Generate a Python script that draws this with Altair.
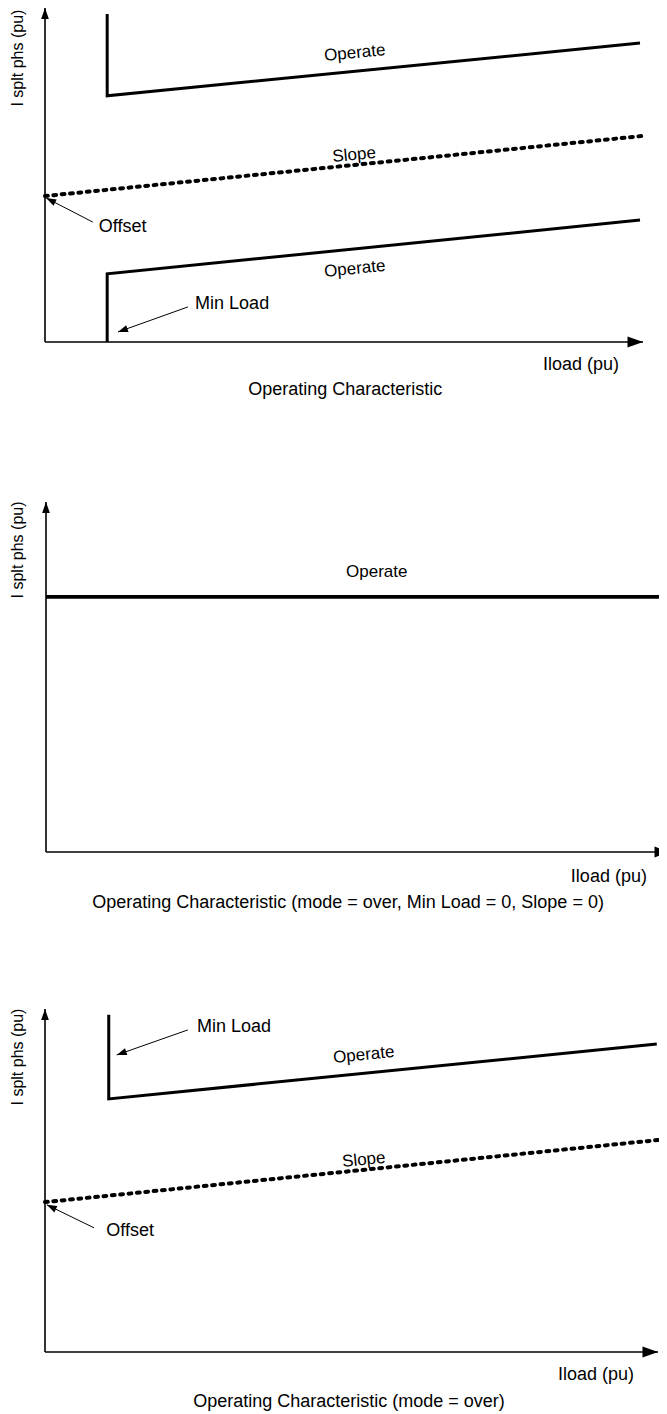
import math
import altair as alt
import pandas as pd

# ---------------------------------------------------------------------------
# Data, in diagram units: in every panel the y axis is x = 0, the x axis is
# y = 0, and both arrows end at 10.
# ---------------------------------------------------------------------------
# Panel 1 - Operating Characteristic
p1_op_upper_x = [1.04, 1.04, 9.95]
p1_op_upper_y = [9.82, 7.37, 8.95]
p1_op_lower_x = [1.04, 1.04, 9.95]
p1_op_lower_y = [0.00, 2.04, 3.65]
p1_slope_x = [0.00, 10.00]
p1_slope_y = [4.37, 6.17]
p1_arrow_tail_x = [0.80, 2.39]
p1_arrow_tail_y = [3.59, 1.05]
p1_arrow_tip_x = [0.02, 1.22]
p1_arrow_tip_y = [4.31, 0.30]
p1_note_text = ["Offset", "Min Load"]
p1_note_x = [0.90, 2.51]
p1_note_y = [3.44, 1.14]
p1_curve_text = ["Operate", "Slope", "Operate"]
p1_curve_x = [5.18, 5.17, 5.18]
p1_curve_y = [8.65, 5.60, 2.19]
p1_caption = "Operating Characteristic"

# Panel 2 - mode = over, Min Load = 0, Slope = 0
p2_op_x = [0.00, 10.00]
p2_op_y = [7.29, 7.29]
p2_curve_text = ["Operate"]
p2_curve_x = [5.30]
p2_curve_y = [8.00]
p2_caption = "Operating Characteristic (mode = over, Min Load = 0, Slope = 0)"

# Panel 3 - mode = over
p3_op_x = [1.04, 1.04, 9.98]
p3_op_y = [9.83, 7.38, 8.98]
p3_slope_x = [0.00, 10.00]
p3_slope_y = [4.37, 6.18]
p3_arrow_tail_x = [2.33, 0.80]
p3_arrow_tail_y = [9.39, 3.62]
p3_arrow_tip_x = [1.17, 0.03]
p3_arrow_tip_y = [8.66, 4.29]
p3_note_text = ["Min Load", "Offset"]
p3_note_x = [2.48, 1.00]
p3_note_y = [9.48, 3.53]
p3_curve_text = ["Operate", "Slope"]
p3_curve_x = [5.20, 5.20]
p3_curve_y = [8.66, 5.60]
p3_caption = "Operating Characteristic (mode = over)"

x_title = "Iload (pu)"
y_title = "I splt phs (pu)"

# ---------------------------------------------------------------------------
W = 651
FONT = "Liberation Sans, Arial, sans-serif"
ARROW = "M 0 0 L -2 -0.7 L -2 0.7 Z"   # pointing right, tip at origin

panels = [
    dict(H=412, xdom=[-0.6187, 10.2676], ydom=[-2.3353, 10.0],
         operate=[(p1_op_upper_x, p1_op_upper_y), (p1_op_lower_x, p1_op_lower_y)],
         op_width=3.0,
         slope=(p1_slope_x, p1_slope_y),
         arrows=(p1_arrow_tail_x, p1_arrow_tail_y, p1_arrow_tip_x, p1_arrow_tip_y),
         notes=(p1_note_text, p1_note_x, p1_note_y),
         curve=(p1_curve_text, p1_curve_x, p1_curve_y),
         curve_line=[0, "slope", 1],
         caption=(p1_caption, 5.02, -1.44),
         xt=(9.60, -0.69), yt=(-0.45, 8.50)),
    dict(H=500, xdom=[-0.6090, 9.8237], ydom=[-1.9429, 12.3429],
         operate=[(p2_op_x, p2_op_y)],
         op_width=3.6,
         slope=None, arrows=None, notes=None,
         curve=(p2_curve_text, p2_curve_x, p2_curve_y),
         curve_line=[0],
         caption=(p2_caption, 4.84, -1.46),
         xt=(9.63, -0.71), yt=(-0.45, 8.63)),
    dict(H=486, xdom=[-0.6036, 10.0163], ydom=[-1.5743, 12.5948],
         operate=[(p3_op_x, p3_op_y)],
         op_width=3.0,
         slope=(p3_slope_x, p3_slope_y),
         arrows=(p3_arrow_tail_x, p3_arrow_tail_y, p3_arrow_tip_x, p3_arrow_tip_y),
         notes=(p3_note_text, p3_note_x, p3_note_y),
         curve=(p3_curve_text, p3_curve_x, p3_curve_y),
         curve_line=[0, "slope"],
         caption=(p3_caption, 4.96, -1.46),
         xt=(9.61, -0.67), yt=(-0.44, 8.60)),
]


def make_panel(d):
    H = d["H"]
    xdom, ydom = d["xdom"], d["ydom"]
    kx = W / (xdom[1] - xdom[0])
    ky = H / (ydom[1] - ydom[0])
    xs = alt.Scale(domain=xdom, nice=False, zero=False)
    ys = alt.Scale(domain=ydom, nice=False, zero=False)

    def X(f):
        return alt.X(f"{f}:Q", scale=xs, axis=None)

    def Y(f):
        return alt.Y(f"{f}:Q", scale=ys, axis=None)

    def screen_angle(dx, dy):
        return math.degrees(math.atan2(-dy * ky, dx * kx)) % 360

    layers = []

    # axes with arrow heads
    axes = pd.DataFrame({"x": [0, 0], "y": [0, 0], "x2": [0, 10], "y2": [10, 0]})
    layers.append(alt.Chart(axes).mark_rule(color="black", strokeWidth=1.6, clip=True)
                  .encode(x=X("x"), y=Y("y"), x2="x2:Q", y2="y2:Q"))
    layers.append(alt.Chart(pd.DataFrame({"x": [0], "y": [10]}))
                  .mark_point(shape=ARROW, filled=True, color="black", opacity=1,
                              size=121, angle=270, clip=True)
                  .encode(x=X("x"), y=Y("y")))
    layers.append(alt.Chart(pd.DataFrame({"x": [10], "y": [0]}))
                  .mark_point(shape=ARROW, filled=True, color="black", opacity=1,
                              size=240, angle=0, clip=True)
                  .encode(x=X("x"), y=Y("y")))

    # operate characteristic lines
    rows = []
    for seg, (lx, ly) in enumerate(d["operate"]):
        for i, (a, b) in enumerate(zip(lx, ly)):
            rows.append({"seg": seg, "i": i, "x": a, "y": b})
    layers.append(alt.Chart(pd.DataFrame(rows))
                  .mark_line(color="black", strokeWidth=d["op_width"], strokeJoin="miter",
                             strokeCap="butt", clip=True)
                  .encode(x=X("x"), y=Y("y"), detail="seg:N", order="i:Q"))

    # slope (dashed)
    if d["slope"] is not None:
        sx, sy = d["slope"]
        layers.append(alt.Chart(pd.DataFrame({"x": sx, "y": sy, "i": list(range(len(sx)))}))
                      .mark_line(color="black", strokeWidth=4, strokeDash=[2.8, 5.6],
                                 strokeCap="round", clip=True)
                      .encode(x=X("x"), y=Y("y"), order="i:Q"))

    # annotation arrows
    if d["arrows"] is not None:
        tx, ty, hx, hy = d["arrows"]
        adf = pd.DataFrame({"tx": tx, "ty": ty, "hx": hx, "hy": hy})
        adf["ang"] = [screen_angle(h - t, v - u) for t, u, h, v in zip(tx, ty, hx, hy)]
        layers.append(alt.Chart(adf).mark_rule(color="black", strokeWidth=1)
                      .encode(x=X("tx"), y=Y("ty"), x2="hx:Q", y2="hy:Q"))
        layers.append(alt.Chart(adf)
                      .mark_point(shape=ARROW, filled=True, color="black", opacity=1, size=100)
                      .encode(x=X("hx"), y=Y("hy"), angle=alt.Angle("ang:Q", scale=None)))

    # notes (Offset, Min Load)
    if d["notes"] is not None:
        nt, nx, ny = d["notes"]
        layers.append(alt.Chart(pd.DataFrame({"t": nt, "x": nx, "y": ny}))
                      .mark_text(font=FONT, fontSize=18, align="left", baseline="middle",
                                 color="black")
                      .encode(x=X("x"), y=Y("y"), text="t:N"))

    # curve labels, tilted along their line
    ct, cx, cy = d["curve"]
    angs = []
    for ref in d["curve_line"]:
        if ref == "slope":
            lx, ly = d["slope"]
        else:
            lx, ly = d["operate"][ref]
        angs.append(screen_angle(lx[-1] - lx[-2], ly[-1] - ly[-2]))
    layers.append(alt.Chart(pd.DataFrame({"t": ct, "x": cx, "y": cy, "ang": angs}))
                  .mark_text(font=FONT, fontSize=17, align="center", baseline="middle",
                             color="black")
                  .encode(x=X("x"), y=Y("y"), text="t:N",
                          angle=alt.Angle("ang:Q", scale=None)))

    # axis titles and caption
    layers.append(alt.Chart(pd.DataFrame({"t": [x_title], "x": [d["xt"][0]], "y": [d["xt"][1]]}))
                  .mark_text(font=FONT, fontSize=18, align="right", baseline="middle",
                             color="black")
                  .encode(x=X("x"), y=Y("y"), text="t:N"))
    layers.append(alt.Chart(pd.DataFrame({"t": [y_title], "x": [d["yt"][0]], "y": [d["yt"][1]]}))
                  .mark_text(font=FONT, fontSize=16, align="center", baseline="middle",
                             angle=270, color="black")
                  .encode(x=X("x"), y=Y("y"), text="t:N"))
    cap, capx, capy = d["caption"]
    layers.append(alt.Chart(pd.DataFrame({"t": [cap], "x": [capx], "y": [capy]}))
                  .mark_text(font=FONT, fontSize=18, align="center", baseline="middle",
                             color="black")
                  .encode(x=X("x"), y=Y("y"), text="t:N"))

    return alt.layer(*layers).properties(width=W, height=H)


chart = (
    alt.vconcat(*[make_panel(p) for p in panels], spacing=0, bounds="flush")
    .properties(padding=0, background="white")
    .configure_view(strokeWidth=0)
)

chart.save("out.html", embed_options={"renderer": "svg", "actions": False})
